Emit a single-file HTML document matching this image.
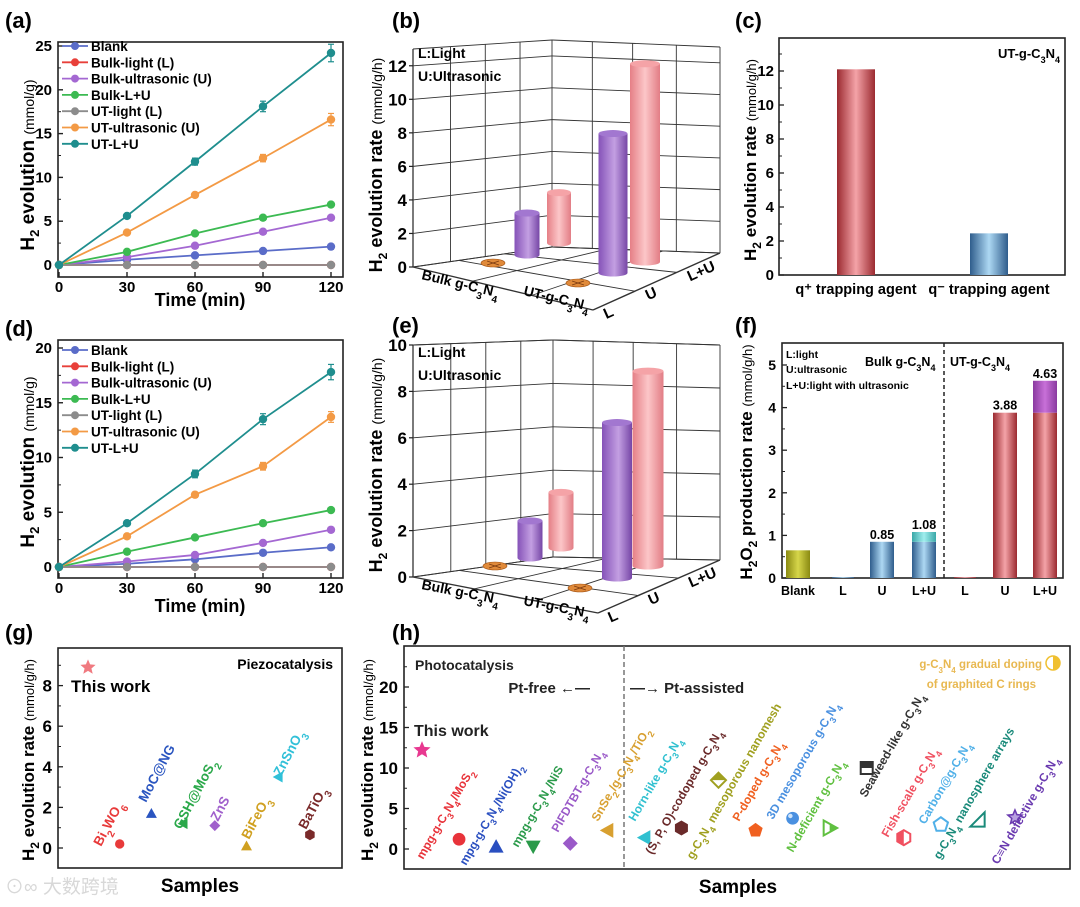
<!DOCTYPE html>
<html><head><meta charset="utf-8">
<style>
html,body{margin:0;padding:0;background:#fff;}
svg{display:block;font-family:"Liberation Sans","Noto Sans CJK SC",sans-serif;font-weight:bold;}
</style></head>
<body>
<svg id="fig" width="1080" height="907" viewBox="0 0 1080 907" xmlns="http://www.w3.org/2000/svg">
<defs>
<linearGradient id="gRed" x1="0" x2="1"><stop offset="0" stop-color="#9b2a30"/><stop offset="0.5" stop-color="#f4a3a8"/><stop offset="1" stop-color="#9b2a30"/></linearGradient>
<linearGradient id="gBlue" x1="0" x2="1"><stop offset="0" stop-color="#2f5d8c"/><stop offset="0.5" stop-color="#add8f3"/><stop offset="1" stop-color="#2f5d8c"/></linearGradient>
<linearGradient id="gPur" x1="0" x2="1"><stop offset="0" stop-color="#8552b8"/><stop offset="0.55" stop-color="#c39fe2"/><stop offset="1" stop-color="#7646a6"/></linearGradient>
<linearGradient id="gPink" x1="0" x2="1"><stop offset="0" stop-color="#e57f86"/><stop offset="0.5" stop-color="#fcc6c8"/><stop offset="1" stop-color="#e27d85"/></linearGradient>
<linearGradient id="gOlive" x1="0" x2="1"><stop offset="0" stop-color="#8a8a12"/><stop offset="0.5" stop-color="#d6d64a"/><stop offset="1" stop-color="#8a8a12"/></linearGradient>
<linearGradient id="gTeal" x1="0" x2="1"><stop offset="0" stop-color="#3aa8a8"/><stop offset="0.5" stop-color="#a0eeee"/><stop offset="1" stop-color="#3aa8a8"/></linearGradient>
<linearGradient id="gMag" x1="0" x2="1"><stop offset="0" stop-color="#8a3aa0"/><stop offset="0.5" stop-color="#c870d8"/><stop offset="1" stop-color="#8a3aa0"/></linearGradient>
</defs>

<!-- panel labels -->
<text x="5" y="28" font-size="22">(a)</text>
<text x="392" y="28" font-size="22">(b)</text>
<text x="735" y="28" font-size="22">(c)</text>
<text x="5" y="336" font-size="22">(d)</text>
<text x="392" y="333" font-size="22">(e)</text>
<text x="735" y="333" font-size="22">(f)</text>
<text x="5" y="640" font-size="22">(g)</text>
<text x="392" y="640" font-size="22">(h)</text>

<!-- axis titles -->
<text transform="translate(34,165) rotate(-90)" text-anchor="middle" font-size="19">H<tspan font-size="13" dy="5">2</tspan><tspan dy="-5"> evolution </tspan><tspan font-size="14" font-weight="normal">(mmol/g)</tspan></text>
<text x="200" y="306" text-anchor="middle" font-size="18">Time (min)</text>
<text transform="translate(34,462) rotate(-90)" text-anchor="middle" font-size="19">H<tspan font-size="13" dy="5">2</tspan><tspan dy="-5"> evolution </tspan><tspan font-size="14" font-weight="normal">(mmol/g)</tspan></text>
<text x="200" y="612" text-anchor="middle" font-size="18">Time (min)</text>
<text transform="translate(382,165) rotate(-90)" text-anchor="middle" font-size="18">H<tspan font-size="12" dy="5">2</tspan><tspan dy="-5"> evolution rate </tspan><tspan font-size="14" font-weight="normal">(mmol/g/h)</tspan></text>
<text transform="translate(382,465) rotate(-90)" text-anchor="middle" font-size="18">H<tspan font-size="12" dy="5">2</tspan><tspan dy="-5"> evolution rate </tspan><tspan font-size="14" font-weight="normal">(mmol/g/h)</tspan></text>
<text transform="translate(756,160) rotate(-90)" text-anchor="middle" font-size="17">H<tspan font-size="12" dy="5">2</tspan><tspan dy="-5"> evolution rate </tspan><tspan font-size="13" font-weight="normal">(mmol/g/h)</tspan></text>
<text transform="translate(752,462) rotate(-90)" text-anchor="middle" font-size="17">H<tspan font-size="12" dy="5">2</tspan><tspan dy="-5">O</tspan><tspan font-size="12" dy="5">2</tspan><tspan dy="-5"> production rate </tspan><tspan font-size="13" font-weight="normal">(mmol/g/h)</tspan></text>
<text transform="translate(34,760) rotate(-90)" text-anchor="middle" font-size="17">H<tspan font-size="12" dy="5">2</tspan><tspan dy="-5"> evolution rate </tspan><tspan font-size="13" font-weight="normal">(mmol/g/h)</tspan></text>
<text x="200" y="892" text-anchor="middle" font-size="19">Samples</text>
<text transform="translate(373,760) rotate(-90)" text-anchor="middle" font-size="17">H<tspan font-size="12" dy="5">2</tspan><tspan dy="-5"> evolution rate </tspan><tspan font-size="13" font-weight="normal">(mmol/g/h)</tspan></text>
<text x="738" y="893" text-anchor="middle" font-size="19">Samples</text>

<text x="5" y="893" font-size="19" fill="#d8d8d8" font-weight="normal">⊙∞ 大数跨境</text>

<g id="root"></g>
</svg>
<script>
var NS='http://www.w3.org/2000/svg';
var root=document.getElementById('root');
function mk(tag,attrs,parent){var e=document.createElementNS(NS,tag);for(var k in attrs)e.setAttribute(k,attrs[k]);(parent||root).appendChild(e);return e;}

/* ---------- data ---------- */
var timesA=[0,30,60,90,120];
var seriesNames=['Blank','Bulk-light (L)','Bulk-ultrasonic (U)','Bulk-L+U','UT-light (L)','UT-ultrasonic (U)','UT-L+U'];
var seriesColors=['#5a6cc8','#e8403a','#a468d2','#3cba52','#8c8c8c','#f39a45','#1f8e8e'];
var aBlank=[0,0.6,1.1,1.6,2.1];
var aBulkL=[0,0,0,0,0];
var aBulkU=[0,0.9,2.2,3.8,5.4];
var aBulkLU=[0,1.5,3.6,5.4,6.9];
var aUTL=[0,0,0,0,0];
var aUTU=[0,3.7,8.0,12.2,16.6];
var aUTLU=[0,5.6,11.8,18.1,24.2];
var aErr=[0,0.2,0.4,0.6,1.0];
var dBlank=[0,0.3,0.7,1.3,1.8];
var dBulkL=[0,0,0,0,0];
var dBulkU=[0,0.5,1.1,2.2,3.4];
var dBulkLU=[0,1.4,2.7,4.0,5.2];
var dUTL=[0,0,0,0,0];
var dUTU=[0,2.8,6.6,9.2,13.7];
var dUTLU=[0,4.0,8.5,13.5,17.8];
var dErr=[0,0.2,0.35,0.5,0.7];
var aTicks=[0,5,10,15,20,25];
var dTicks=[0,5,10,15,20];
var timeTicks=[0,30,60,90,120];

var bValues=[0,2.5,3.0,0,8.3,11.8]; // Bulk L,U,L+U ; UT L,U,L+U
var eValues=[0,1.6,2.4,0,6.7,8.4];
var bTicks=[0,2,4,6,8,10,12];
var eTicks=[0,2,4,6,8,10];

var cCats=['q⁺ trapping agent','q⁻ trapping agent'];
var cValues=[12.1,2.45];
var cTicks=[0,2,4,6,8,10,12];

var fCats=['Blank','L','U','L+U','L','U','L+U'];
var fBase=[0.65,0.02,0.85,0.85,0.02,3.88,3.88];
var fExtra=[0,0,0,0.23,0,0,0.75];
var fLabels=['','','0.85','1.08','','3.88','4.63'];
var fTicks=[0,1,2,3,4,5];

var gNames=['This work','Bi2WO6','MoC@NG','GSH@MoS2','ZnS','BiFeO3','ZnSnO3','BaTiO3'];
var gValues=[8.9,0.2,1.7,1.2,1.1,0.1,3.5,0.65];
var gTicks=[0,2,4,6,8];

var hNames=['This work','mpg-g-C3N4/MoS2','mpg-g-C3N4/Ni(OH)2','mpg-g-C3N4/NiS','PIFDTBT-g-C3N4','SnSe2/g-C3N4/TiO2','Horn-like g-C3N4','(S, P, O)-codoped g-C3N4','g-C3N4 mesoporous nanomesh','P-doped g-C3N4','3D mesoporous g-C3N4','N-deficient g-C3N4','Seaweed-like g-C3N4','Fish-scale g-C3N4','Carbon@g-C3N4','g-C3N4 nanosphere arrays','C≡N defective g-C3N4'];
var hValues=[12.2,1.2,0.3,0.3,0.7,2.3,1.4,2.6,8.5,2.3,3.8,2.6,10.0,1.4,3.0,3.6,3.9];
var hTicks=[0,5,10,15,20];

/* ---------- styles / layout (not data) ---------- */
var gColors=['#f07a80','#e83a3a','#2a55c0','#2aa84a','#a060cc','#d0a020','#30c0d8','#7a2a2a'];
var gShapes=['star','circle','tri','ltri','diamond','tri','ltri','hex'];
var gLabelPos=[null,[101,847],[146,803],[181,830],[218,822],[249,840],[281,777],[306,830]];
var hColors=['#e83890','#e8333a','#2a4fc0','#2a9a4a','#9a5ac8','#d8a030','#30c0d0','#6a2a2a','#a0a020','#f06020','#4a90e0','#60c040','#333333','#f05060','#50b0e8','#1a8a7a','#6a3ab0'];
var hShapes=['star','circle','tri','dtri','diamond','ltri','ltri','hex','diamondh','pent','sphere','rtri','squareh','hexh','penth','trio','staro'];
var hLabelPos=[null,[423,860],[466,866],[518,848],[558,833],[598,822],[635,822],[652,855],[693,860],[739,822],[773,820],[793,853],[866,798],[888,838],[925,825],[940,860],[998,865]];

function fmtChem(s){ // subscripts for digits after letters in formulas
  return s.replace(/([A-Za-z\)])(\d)/g,function(m,a,b){return a+'<tspan baseline-shift="sub" font-size="75%">'+b+'</tspan>';});
}

/* ---------- line panels (a) & (d) ---------- */
function linePanel(id,box,yMax,ticks,series,err,legendY){
  var g=mk('g',{});
  
  
  var x0=59,x1=331;
  function X(t){return x0+(t-0)/120*(x1-x0);}
  function Y(v){return box.y0-(v/yMax)*(box.y0-box.yTop);}
  var frame=mk('rect',{x:box.l,y:box.t,width:box.r-box.l,height:box.b-box.t,fill:'none',stroke:'#222','stroke-width':1.6},g);
  
  
  ticks.forEach(function(v){
    var y=Y(v);
    mk('line',{x1:box.l,x2:box.l+5,y1:y,y2:y,stroke:'#222','stroke-width':1.4},g);
    var t=mk('text',{x:box.l-6,y:y+5,'text-anchor':'end','font-size':15},g);t.textContent=v;
    
    
    var ym=Y(v+ (ticks[1]-ticks[0])/2);
    if(ym>box.t) mk('line',{x1:box.l,x2:box.l+3,y1:ym,y2:ym,stroke:'#222','stroke-width':1},g);
  });
  timeTicks.forEach(function(v){
    var x=X(v);
    mk('line',{x1:x,x2:x,y1:box.b,y2:box.b-5,stroke:'#222','stroke-width':1.4},g);
    var t=mk('text',{x:x,y:box.b+15,'text-anchor':'middle','font-size':15},g);t.textContent=v;
    
    
  });
  series.forEach(function(s,i){
    var pts=timesA.map(function(t,j){return X(t)+','+Y(s[j]);}).join(' ');
    var pl=mk('polyline',{points:pts,fill:'none',stroke:seriesColors[i],'stroke-width':1.8},g);
    
    
    timesA.forEach(function(t,j){
      if(i>=5 && j>0){
        var e=err[j]*(i==6?1:0.7);
        mk('line',{x1:X(t),x2:X(t),y1:Y(s[j]-e),y2:Y(s[j]+e),stroke:seriesColors[i],'stroke-width':1.2},g);
        mk('line',{x1:X(t)-3,x2:X(t)+3,y1:Y(s[j]+e),y2:Y(s[j]+e),stroke:seriesColors[i],'stroke-width':1.2},g);
        mk('line',{x1:X(t)-3,x2:X(t)+3,y1:Y(s[j]-e),y2:Y(s[j]-e),stroke:seriesColors[i],'stroke-width':1.2},g);
      }
      var c=mk('circle',{cx:X(t),cy:Y(s[j]),r:4.2,fill:seriesColors[i]},g);
      
      
    });
  });
  seriesNames.forEach(function(n,i){
    var y=legendY+i*16.3;
    var lg=mk('g',{},g);
    
    
    mk('line',{x1:62,x2:88,y1:y,y2:y,stroke:seriesColors[i],'stroke-width':1.8},lg);
    mk('circle',{cx:75,cy:y,r:4,fill:seriesColors[i]},lg);
    var t=mk('text',{x:91,y:y+5,'font-size':13.5},lg);t.textContent=n;
  });
}
linePanel('a',{l:58,r:343,t:42,b:277,y0:265,yTop:46},25,aTicks,[aBlank,aBulkL,aBulkU,aBulkLU,aUTL,aUTU,aUTLU],aErr,46);
linePanel('d',{l:58,r:343,t:340,b:578,y0:567,yTop:348},20,dTicks,[dBlank,dBulkL,dBulkU,dBulkLU,dUTL,dUTU,dUTLU],dErr,350);

/* ---------- 3D panels (b) & (e) ---------- */
function panel3d(id,geo,vals,ticks,yMax){
  var g=mk('g',{});
  
  
  var A=geo.A,B=geo.B,C=geo.C,D=geo.D,F=geo.F,G=geo.G,R=geo.R;
  function lerp(p,q,t){return [p[0]+(q[0]-p[0])*t,p[1]+(q[1]-p[1])*t];}
  function ln(p,q,w){mk('line',{x1:p[0],y1:p[1],x2:q[0],y2:q[1],stroke:'#333','stroke-width':w||0.9},g);}
  var nl=yMax%2===0?yMax/2:Math.ceil(yMax/2);
  // horizontal grid lines on walls
  for(var k=0;k<=yMax;k+=2){
    var t=k/yMax;
    var pL=lerp(D,A,t),pB=lerp(C,B,t),pR=lerp(G,R,t);
    ln(pL,pB);ln(pB,pR);
  }
  ln(A,B);ln(B,R);
  // vertical grid lines on left wall
  [0.27,0.52,0.77].forEach(function(t){ln(lerp(D,C,t),lerp(A,B,t));});
  [0.24,0.48,0.74].forEach(function(t){ln(lerp(C,G,t),lerp(B,R,t));});
  ln(A,D,1.3);ln(B,C);ln(R,G);
  // floor grid
  [0.33,0.66].forEach(function(t){ln(lerp(D,F,t),lerp(C,G,t));});
  [0.33,0.66].forEach(function(t){ln(lerp(D,C,t),lerp(F,G,t));});
  ln(D,F,1.4);ln(F,G,1.4);ln(D,C);ln(C,G);
  // ticks
  ticks.forEach(function(v){
    var y=D[1]-(v/yMax)*(D[1]-A[1]);
    mk('line',{x1:D[0]-4,x2:D[0],y1:y,y2:y,stroke:'#222','stroke-width':1.2},g);
    var t=mk('text',{x:D[0]-6,y:y+6,'text-anchor':'end','font-size':17},g);t.textContent=v;
    
    
  });
  // zero markers
  geo.zero.forEach(function(p){
    var e=mk('ellipse',{cx:p[0],cy:p[1],rx:12,ry:4,fill:'#e08a3a',stroke:'#a05010','stroke-width':0.6},g);
    
    
    mk('line',{x1:p[0]-6,y1:p[1]-2,x2:p[0]+6,y2:p[1]+2,stroke:'#7a3a10','stroke-width':0.8},g);
    mk('line',{x1:p[0]-6,y1:p[1]+2,x2:p[0]+6,y2:p[1]-2,stroke:'#7a3a10','stroke-width':0.8},g);
  });
  // bars
  var order=[1,2,4,5];
  var fills=['url(#gPur)','url(#gPink)','url(#gPur)','url(#gPink)'];
  var tops=['#a277d0','#f5a3a7','#a277d0','#f5a3a7'];
  order.forEach(function(vi,j){
    var b=geo.bars[j];
    var h=vals[vi]*geo.k;
    var top=b[1]-h;
    var r=mk('rect',{x:b[0]-b[2]/2,y:top,width:b[2],height:h,fill:fills[j]},g);
    
    
    mk('ellipse',{cx:b[0],cy:b[1],rx:b[2]/2,ry:3.5,fill:fills[j]},g);
    mk('ellipse',{cx:b[0],cy:top,rx:b[2]/2,ry:3.5,fill:tops[j]},g);
  });
  var t1=mk('text',{x:418,y:geo.txt,'font-size':14},g);t1.textContent='L:Light';
  
  
  var t2=mk('text',{x:418,y:geo.txt+23,'font-size':14},g);t2.textContent='U:Ultrasonic';
  
  
  var ang=Math.atan2(F[1]-D[1],F[0]-D[0])*180/Math.PI;
  var l1=mk('text',{transform:'translate('+(D[0]+8)+','+(D[1]+12)+') rotate('+ang+')','font-size':14},g);
  l1.innerHTML='Bulk g-C<tspan baseline-shift="sub" font-size="10">3</tspan>N<tspan baseline-shift="sub" font-size="10">4</tspan>';
  
  
  var l2=mk('text',{transform:'translate('+(D[0]+110)+','+(D[1]+28)+') rotate('+ang+')','font-size':14},g);
  l2.innerHTML='UT-g-C<tspan baseline-shift="sub" font-size="10">3</tspan>N<tspan baseline-shift="sub" font-size="10">4</tspan>';
  
  
  var ang2=Math.atan2(G[1]-F[1],G[0]-F[0])*180/Math.PI;
  ['L','U','L+U'].forEach(function(s,i){
    var p=lerp(F,G,0.12+i*0.33);
    var t=mk('text',{transform:'translate('+(p[0]-2)+','+(p[1]+16)+') rotate('+ang2+')','font-size':15},g);t.textContent=s;
    
    
  });
}
panel3d('b',{A:[413,49],B:[552,40],C:[552,247],D:[413,267],F:[593,310],G:[720,253],R:[720,47],k:16.8,txt:58,
  zero:[[493,263],[578,283]],bars:[[527,255,25],[559,243,24],[613,273,29],[645,262,30]]},bValues,bTicks,13);
panel3d('e',{A:[413,345],B:[553,340],C:[553,557],D:[413,577],F:[598,613],G:[720,560],R:[720,345],k:23.2,txt:357,
  zero:[[495,566],[580,588]],bars:[[530,558,25],[561,548,25],[617,578,30],[648,566,31]]},eValues,eTicks,10);

/* ---------- panel (c) ---------- */
(function(){
  var g=mk('g',{});
  
  
  var l=779,r=1065,t=38,b=275;
  function Y(v){return 275-v*17;}
  var fr=mk('rect',{x:l,y:t,width:r-l,height:b-t,fill:'none',stroke:'#222','stroke-width':1.6},g);
  
  
  cTicks.forEach(function(v){
    mk('line',{x1:l,x2:l+5,y1:Y(v),y2:Y(v),stroke:'#222','stroke-width':1.3},g);
    mk('line',{x1:l,x2:l+3,y1:Y(v+1),y2:Y(v+1),stroke:'#222','stroke-width':1},g);
    var tx=mk('text',{x:l-5,y:Y(v)+5,'text-anchor':'end','font-size':15},g);tx.textContent=v;
    
    
  });
  var fills=['url(#gRed)','url(#gBlue)'];
  var cx=[856,989];
  cValues.forEach(function(v,i){
    var rc=mk('rect',{x:cx[i]-19,y:Y(v),width:38,height:Y(0)-Y(v),fill:fills[i]},g);
    
    
    var tx=mk('text',{x:cx[i],y:294,'text-anchor':'middle','font-size':14.5},g);
    tx.textContent=cCats[i];
    
    
  });
  var n=mk('text',{x:1060,y:58,'text-anchor':'end','font-size':13},g);
  n.innerHTML='UT-g-C<tspan baseline-shift="sub" font-size="9">3</tspan>N<tspan baseline-shift="sub" font-size="9">4</tspan>';
  
  
})();

/* ---------- panel (f) ---------- */
(function(){
  var g=mk('g',{});
  
  
  var l=782,r=1063,t=343,b=578;
  function Y(v){return 578-v*42.6;}
  var fr=mk('rect',{x:l,y:t,width:r-l,height:b-t,fill:'none',stroke:'#222','stroke-width':1.6},g);
  
  
  fTicks.forEach(function(v){
    mk('line',{x1:l,x2:l+5,y1:Y(v),y2:Y(v),stroke:'#222','stroke-width':1.3},g);
    if(v<5)mk('line',{x1:l,x2:l+3,y1:Y(v+0.5),y2:Y(v+0.5),stroke:'#222','stroke-width':1},g);
    var tx=mk('text',{x:l-6,y:Y(v)+5,'text-anchor':'end','font-size':14},g);tx.textContent=v;
    
    
  });
  var dl=mk('line',{x1:944,x2:944,y1:t,y2:b,stroke:'#222','stroke-width':1.5,'stroke-dasharray':'4,3'},g);
  
  
  var cx=[798,843,882,924,965,1005,1045];
  var base=['url(#gOlive)','url(#gBlue)','url(#gBlue)','url(#gBlue)','url(#gRed)','url(#gRed)','url(#gRed)'];
  var extra=['','','','url(#gTeal)','','','url(#gMag)'];
  fCats.forEach(function(c,i){
    var w=(i==1||i==4)?22:24;
    var rc=mk('rect',{x:cx[i]-w/2,y:Y(fBase[i]),width:w,height:Y(0)-Y(fBase[i]),fill:base[i]},g);
    
    
    if(fExtra[i]>0){
      var re=mk('rect',{x:cx[i]-w/2,y:Y(fBase[i]+fExtra[i]),width:w,height:Y(fBase[i])-Y(fBase[i]+fExtra[i]),fill:extra[i]},g);
      
      
    }
    if(fLabels[i]){
      var vt=mk('text',{x:cx[i],y:Y(fBase[i]+fExtra[i])-3,'text-anchor':'middle','font-size':12.5},g);vt.textContent=fLabels[i];
      
      
    }
    var tx=mk('text',{x:cx[i],y:595,'text-anchor':'middle','font-size':12.5},g);tx.textContent=c;
    
    
  });
  [['L:light',358],['U:ultrasonic',373],['L+U:light with ultrasonic',389]].forEach(function(a){
    var tx=mk('text',{x:786,y:a[1],'font-size':10.5},g);tx.textContent=a[0];
    
    
  });
  var h1=mk('text',{x:865,y:366,'font-size':12.5},g);
  h1.innerHTML='Bulk g-C<tspan baseline-shift="sub" font-size="9">3</tspan>N<tspan baseline-shift="sub" font-size="9">4</tspan>';
  
  
  var h2=mk('text',{x:950,y:366,'font-size':12.5},g);
  h2.innerHTML='UT-g-C<tspan baseline-shift="sub" font-size="9">3</tspan>N<tspan baseline-shift="sub" font-size="9">4</tspan>';
  
  
})();

/* ---------- symbols ---------- */
function sym(g,type,x,y,c,s){
  var e;
  function poly(pts,attrs){var a={points:pts.map(function(p){return (x+p[0]*s)+','+(y+p[1]*s);}).join(' '),fill:c};for(var k in attrs)a[k]=attrs[k];return mk('polygon',a,g);}
  function starPts(){var p=[];for(var i=0;i<10;i++){var r=i%2?0.45:1;var a=-Math.PI/2+i*Math.PI/5;p.push([r*Math.cos(a),r*Math.sin(a)]);}return p;}
  function ngon(n,rot){var p=[];for(var i=0;i<n;i++){var a=rot+i*2*Math.PI/n;p.push([Math.cos(a),Math.sin(a)]);}return p;}
  switch(type){
    case 'star': e=poly(starPts()); break;
    case 'staro': e=poly(starPts(),{fill:'#b8a0e0',stroke:c,'stroke-width':1.5}); break;
    case 'circle': e=mk('circle',{cx:x,cy:y,r:s*0.85,fill:c},g); break;
    case 'sphere': e=mk('circle',{cx:x,cy:y,r:s*0.85,fill:c},g); mk('circle',{cx:x-s*0.3,cy:y-s*0.3,r:s*0.3,fill:'#cfe4fa'},g); break;
    case 'tri': e=poly([[0,-1],[1,0.8],[-1,0.8]]); break;
    case 'dtri': e=poly([[-1,-0.8],[1,-0.8],[0,1]]); break;
    case 'ltri': e=poly([[-1,0],[0.8,-1],[0.8,1]]); break;
    case 'rtri': e=poly([[1,0],[-0.8,-1],[-0.8,1]],{fill:'#fff',stroke:c,'stroke-width':2}); poly([[1,0],[0,-0.55],[0,0.55]]); break;
    case 'trio': e=poly([[0.9,-1],[0.9,0.9],[-1,0.9]],{fill:'#fff',stroke:c,'stroke-width':2}); break;
    case 'diamond': e=poly([[0,-1],[1,0],[0,1],[-1,0]]); break;
    case 'diamondh': e=poly([[0,-1],[1,0],[0,1],[-1,0]],{fill:'#fff',stroke:c,'stroke-width':2}); poly([[0,-1],[1,0],[-1,0]]); break;
    case 'hex': e=poly(ngon(6,Math.PI/6)); break;
    case 'hexh': e=poly(ngon(6,Math.PI/6),{fill:'#fff',stroke:c,'stroke-width':2}); poly([[0,-1],[0,1],[-0.87,0.5],[-0.87,-0.5]]); break;
    case 'pent': e=poly(ngon(5,-Math.PI/2)); break;
    case 'penth': e=poly(ngon(5,-Math.PI/2),{fill:'#fff',stroke:c,'stroke-width':2}); break;
    case 'squareh': e=mk('rect',{x:x-s*0.8,y:y-s*0.8,width:s*1.6,height:s*1.6,fill:'#fff',stroke:c,'stroke-width':2},g); mk('rect',{x:x-s*0.8,y:y-s*0.8,width:s*1.6,height:s*0.8,fill:c},g); break;
  }
  return e;
}

/* ---------- panel (g) ---------- */
(function(){
  var g=mk('g',{});
  
  
  var l=58,r=342,t=648,b=868;
  function X(i){return 88+i*31.7;}
  function Y(v){return 848-v*20.3;}
  var fr=mk('rect',{x:l,y:t,width:r-l,height:b-t,fill:'none',stroke:'#222','stroke-width':1.6},g);
  
  
  gTicks.forEach(function(v){
    mk('line',{x1:l,x2:l+5,y1:Y(v),y2:Y(v),stroke:'#222','stroke-width':1.3},g);
    mk('line',{x1:l,x2:l+3,y1:Y(v+1),y2:Y(v+1),stroke:'#222','stroke-width':1},g);
    var tx=mk('text',{x:l-6,y:Y(v)+6,'text-anchor':'end','font-size':17},g);tx.textContent=v;
    
    
  });
  gValues.forEach(function(v,i){
    var s=sym(g,gShapes[i],X(i),Y(v),gColors[i],i==0?8:5.5);
    
    
    if(i>0){
      var p=gLabelPos[i];
      var tx=mk('text',{transform:'translate('+p[0]+','+p[1]+') rotate(-62)','font-size':13.5,fill:gColors[i]},g);
      tx.innerHTML=fmtChem(gNames[i]);
      
      
    }
  });
  var tw=mk('text',{x:71,y:692,'font-size':17},g);tw.textContent='This work';
  
  
  var pz=mk('text',{x:333,y:669,'text-anchor':'end','font-size':14},g);pz.textContent='Piezocatalysis';
  
  
})();

/* ---------- panel (h) ---------- */
(function(){
  var g=mk('g',{});
  
  
  var l=404,r=1070,t=646,b=869;
  function X(i){return 422+i*37.06;}
  function Y(v){return 849-v*8.1;}
  var fr=mk('rect',{x:l,y:t,width:r-l,height:b-t,fill:'none',stroke:'#222','stroke-width':1.6},g);
  
  
  hTicks.forEach(function(v){
    mk('line',{x1:l,x2:l+5,y1:Y(v),y2:Y(v),stroke:'#222','stroke-width':1.3},g);
    mk('line',{x1:l,x2:l+3,y1:Y(v+2.5),y2:Y(v+2.5),stroke:'#222','stroke-width':1},g);
    var tx=mk('text',{x:l-6,y:Y(v)+6,'text-anchor':'end','font-size':17},g);tx.textContent=v;
    
    
  });
  var dl=mk('line',{x1:624,x2:624,y1:t,y2:b,stroke:'#777','stroke-width':1.5,'stroke-dasharray':'5,3'},g);
  
  
  hValues.forEach(function(v,i){
    var s=sym(g,hShapes[i],X(i),Y(v),hColors[i],i==0?9:7.5);
    
    
    if(i>0){
      var p=hLabelPos[i];
      var tx=mk('text',{transform:'translate('+p[0]+','+p[1]+') rotate(-60)','font-size':12,fill:hColors[i]},g);
      tx.innerHTML=fmtChem(hNames[i]);
      
      
    }
  });
  function txt(x,y,s,fs,name,anchor,fill){var tx=mk('text',{x:x,y:y,'font-size':fs,'text-anchor':anchor||'start',fill:fill||'#222'},g);tx.innerHTML=s;
    
    return tx;}
  txt(415,670,'Photocatalysis',14,'category-note');
  txt(414,736,'This work',16,'this-work-label');
  txt(590,693,'Pt-free ←—',15,'pt-free-label','end');
  txt(630,693,'—→ Pt-assisted',15,'pt-assisted-label');
  txt(1042,668,'g-C<tspan baseline-shift="sub" font-size="8">3</tspan>N<tspan baseline-shift="sub" font-size="8">4</tspan> gradual doping',11.5,'annotation-doping','end','#e8b850');
  txt(1036,688,'of graphited C rings',11.5,'annotation-rings','end','#e8b850');
  var hc=mk('circle',{cx:1053,cy:663,r:7,fill:'#fff',stroke:'#f0c030','stroke-width':1.5},g);
  
  
  mk('path',{d:'M1053,656 A7,7 0 0 1 1053,670 Z',fill:'#f0c030'},g);
})();
</script>
</body></html>
